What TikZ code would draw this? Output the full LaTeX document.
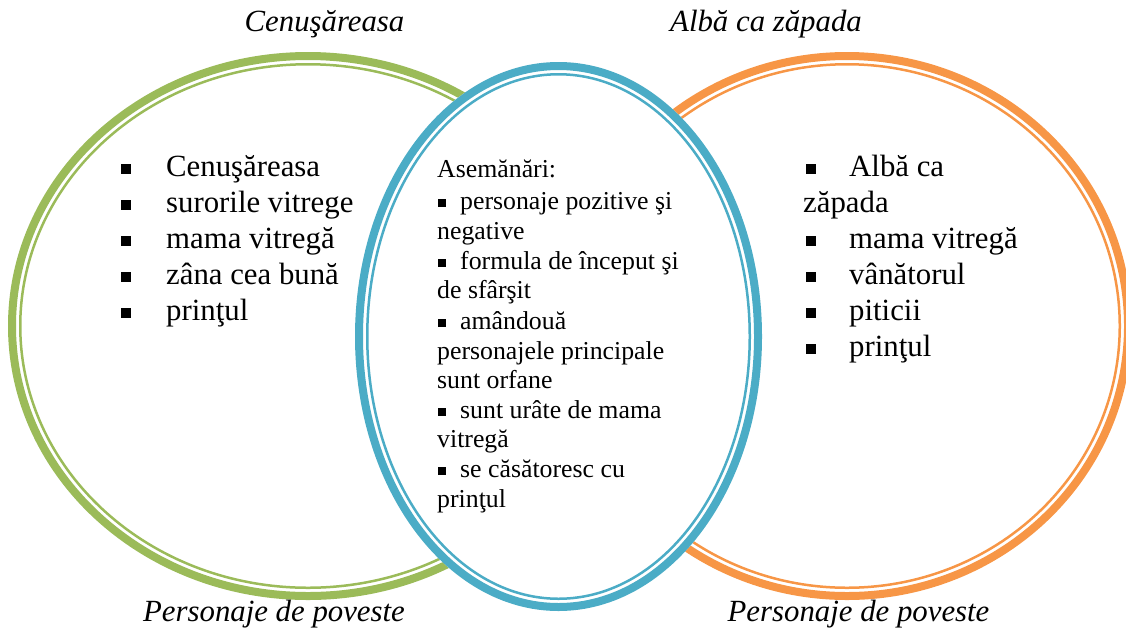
\documentclass[tikz,border=0pt]{standalone}
\usepackage{fontspec}
\setmainfont{Liberation Serif}
\definecolor{vgreen}{HTML}{9BBB59}
\definecolor{vblue}{HTML}{4BACC6}
\definecolor{vorange}{HTML}{F79646}
\newcommand\bigbul{\rule[2.5pt]{10pt}{10pt}}
\newcommand\smallbul{\rule[2pt]{8pt}{8pt}}
\tikzset{
  thickring/.style={line width=8pt},
  thinring/.style={line width=2.5pt},
  title/.style={font=\fontsize{30.8pt}{36pt}\selectfont\itshape, inner sep=0pt, anchor=base},
  biglist/.style={font=\fontsize{30.8pt}{36pt}\selectfont, inner sep=0pt, anchor=base west},
  midlist/.style={font=\fontsize{25.8pt}{30pt}\selectfont, inner sep=0pt, anchor=base west},
}
\begin{document}
\begin{tikzpicture}[x=1pt,y=-1pt]
\useasboundingbox (0,0) rectangle (1126,630);
\clip (0,0) rectangle (1126,630);
% green circle
\draw[vgreen, thickring] (308,326) ellipse [x radius=296pt, y radius=270pt];
\draw[vgreen, thinring] (308,326) ellipse [x radius=287.75pt, y radius=261.75pt];
% orange circle
\draw[vorange, thickring] (847,326) ellipse [x radius=281pt, y radius=270pt];
\draw[vorange, thinring] (847,326) ellipse [x radius=272.75pt, y radius=261.75pt];
% blue circle
\fill[white] (558.5,336.5) ellipse [x radius=203.5pt, y radius=274.5pt];
\draw[vblue, thickring] (558.5,336.5) ellipse [x radius=199.5pt, y radius=270.5pt];
\draw[vblue, thinring] (558.5,336.5) ellipse [x radius=191.25pt, y radius=262.25pt];
% titles
\node[title] (t1) at (324.5,31) {Cenuşăreasa};
\node[title] (t2) at (766,31) {Albă ca zăpada};
\node[title] (b1) at (274,621) {Personaje de poveste};
\node[title] (b2) at (858.5,621) {Personaje de poveste};
% left list
\node[biglist] (l1) at (121,176) {\makebox[45pt][l]{\bigbul}Cenuşăreasa};
\node[biglist] (l2) at (121,212) {\makebox[45pt][l]{\bigbul}surorile vitrege};
\node[biglist] (l3) at (121,248) {\makebox[45pt][l]{\bigbul}mama vitregă};
\node[biglist] (l4) at (121,284) {\makebox[45pt][l]{\bigbul}zâna cea bună};
\node[biglist] (l5) at (121,320) {\makebox[45pt][l]{\bigbul}prinţul};
% right list
\node[biglist] (r1) at (803,176) {\makebox[46pt][l]{\hspace{3pt}\bigbul}Albă ca};
\node[biglist] (r1b) at (803,212) {zăpada};
\node[biglist] (r2) at (803,248) {\makebox[46pt][l]{\hspace{3pt}\bigbul}mama vitregă};
\node[biglist] (r3) at (803,284) {\makebox[46pt][l]{\hspace{3pt}\bigbul}vânătorul};
\node[biglist] (r4) at (803,320) {\makebox[46pt][l]{\hspace{3pt}\bigbul}piticii};
\node[biglist] (r5) at (803,356) {\makebox[46pt][l]{\hspace{3pt}\bigbul}prinţul};
% middle list
\node[midlist] (m0) at (437,177) {Asemănări:};
\node[midlist] (m1) at (437,209) {\makebox[23pt][l]{\hspace{1pt}\smallbul}personaje pozitive şi};
\node[midlist] (m1b) at (437,239) {negative};
\node[midlist] (m2) at (437,269) {\makebox[23pt][l]{\hspace{1pt}\smallbul}formula de început şi};
\node[midlist] (m2b) at (437,298) {de sfârşit};
\node[midlist] (m3) at (437,329) {\makebox[23pt][l]{\hspace{1pt}\smallbul}amândouă};
\node[midlist] (m3b) at (437,359) {personajele principale};
\node[midlist] (m3c) at (437,388) {sunt orfane};
\node[midlist] (m4) at (437,418) {\makebox[23pt][l]{\hspace{1pt}\smallbul}sunt urâte de mama};
\node[midlist] (m4b) at (437,447) {vitregă};
\node[midlist] (m5) at (437,477) {\makebox[23pt][l]{\hspace{1pt}\smallbul}se căsătoresc cu};
\node[midlist] (m5b) at (437,507) {prinţul};
\end{tikzpicture}
\end{document}
